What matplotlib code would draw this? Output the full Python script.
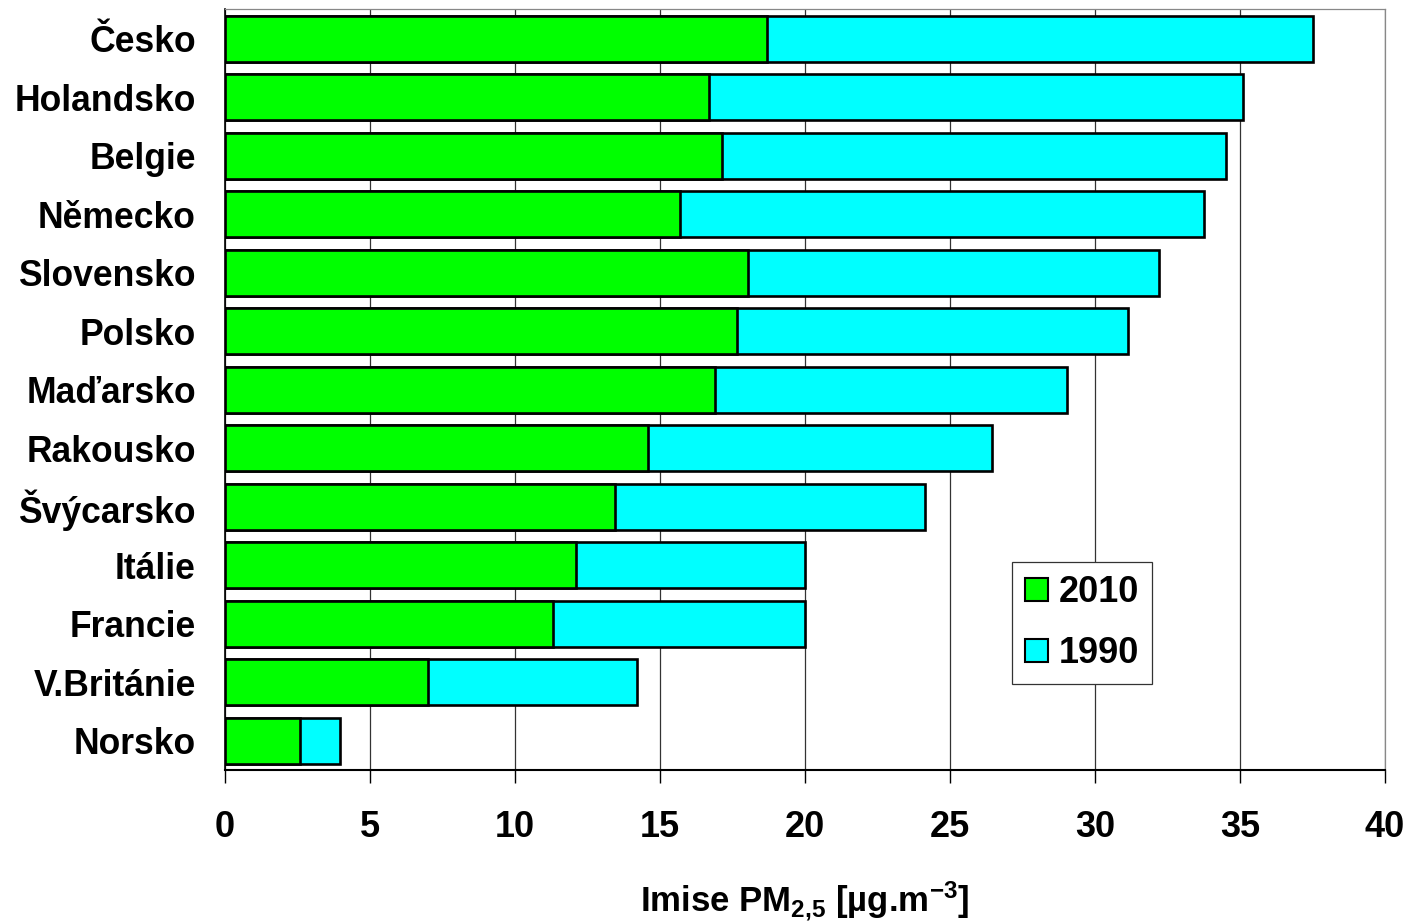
import matplotlib
matplotlib.use("Agg")
import matplotlib.pyplot as plt
from matplotlib.patches import Patch

plt.rcParams['font.family'] = ['Liberation Sans', 'DejaVu Sans']
plt.rcParams['font.weight'] = 'bold'
plt.rcParams['mathtext.fontset'] = 'custom'
plt.rcParams['mathtext.rm'] = 'Liberation Sans:bold'
plt.rcParams['mathtext.bf'] = 'Liberation Sans:bold'
plt.rcParams['mathtext.it'] = 'Liberation Sans:bold'

countries = ["Česko", "Holandsko", "Belgie", "Německo", "Slovensko", "Polsko",
             "Maďarsko", "Rakousko", "Švýcarsko", "Itálie", "Francie",
             "V.Británie", "Norsko"]
pm_2010 = [18.7, 16.7, 17.15, 15.7, 18.05, 17.65, 16.9, 14.6, 13.45, 12.1, 11.3, 7.0, 2.6]
pm_1990 = [37.5, 35.1, 34.5, 33.75, 32.2, 31.15, 29.05, 26.45, 24.15, 20.0, 20.0, 14.2, 3.95]
x_ticks = [0, 5, 10, 15, 20, 25, 30, 35, 40]

GREEN = "#00FF00"
CYAN = "#00FFFF"

fig = plt.figure(figsize=(14.1, 9.21), dpi=100)
ax = fig.add_axes([0.1596, 0.164, 0.8227, 0.8257])

pos = list(range(len(countries)))
ax.barh(pos, pm_1990, height=0.79, color=CYAN, edgecolor="black", linewidth=1.9, zorder=3)
ax.barh(pos, pm_2010, height=0.79, color=GREEN, edgecolor="black", linewidth=1.9, zorder=4)

ax.set_xlim(0, 40)
ax.set_ylim(len(countries) - 0.5, -0.5)
ax.set_xticks(x_ticks)
ax.set_xticklabels([str(t) for t in x_ticks], fontsize=26, fontweight='bold')
ax.set_yticks(pos)
ax.set_yticklabels(countries, fontsize=25.6, fontweight='bold')

ax.tick_params(axis='x', length=9, width=1, direction='out', pad=20)
ax.tick_params(axis='y', length=0, pad=21)

ax.xaxis.grid(True, color="#333333", linewidth=0.9, zorder=0)
ax.set_axisbelow(True)

for side in ("top", "right"):
    ax.spines[side].set_color("#888888")
    ax.spines[side].set_linewidth(0.9)
ax.spines["left"].set_color("black")
ax.spines["left"].set_linewidth(1.2)
ax.spines["bottom"].set_color("black")
ax.spines["bottom"].set_linewidth(1.5)

ax.set_xlabel("Imise PM$_{2{,}5}$ [µg.m$^{-3}$]", fontsize=25, fontweight='bold', labelpad=25)

handles = [Patch(facecolor=GREEN, edgecolor="black", linewidth=1.5, label="2010"),
           Patch(facecolor=CYAN, edgecolor="black", linewidth=1.5, label="1990")]
leg = ax.legend(handles=handles, loc="center", bbox_to_anchor=(0.739, 0.193),
                prop={'size': 26, 'weight': 'bold'}, frameon=True, fancybox=False,
                edgecolor="#333333", framealpha=1, handlelength=0.62, handleheight=0.62,
                handletextpad=0.3, labelspacing=0.72, borderpad=0.36)
leg.get_frame().set_linewidth(0.9)
leg.set_zorder(6)

fig.savefig("out.png", dpi=100)
